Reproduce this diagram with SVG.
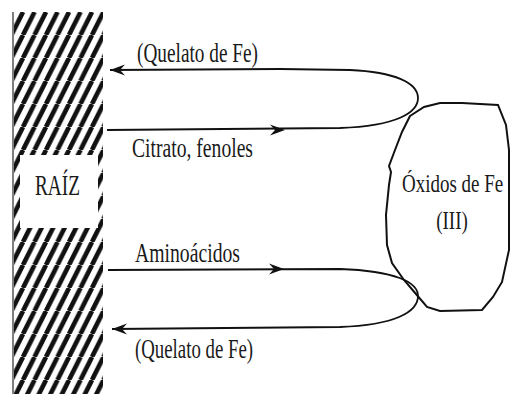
<svg xmlns="http://www.w3.org/2000/svg" xmlns:xlink="http://www.w3.org/1999/xlink" width="510" height="394" viewBox="0 0 510 394">
<style>
.lbl{font-family:"Liberation Serif","Times New Roman",serif;font-size:27px;fill:#1a1a1a}
.big{font-size:30px}
.ox{font-size:19px}
.ln{fill:none;stroke:#111;stroke-width:1.8}
.ah{fill:#111}
</style>
<defs>
<pattern id="hatch" patternUnits="userSpaceOnUse" x="0" y="12" width="11.5" height="23">
<path d="M-11.5,23 L0,0 M0,23 L11.5,0 M11.5,23 L23,0" stroke="#111" stroke-width="4.6" fill="none"/>
</pattern>
<clipPath id="rootclip"><rect x="14" y="12" width="89" height="382"/></clipPath>
<path id="ah" d="M0,0 L-15,-5.5 L-10,0 L-15,5.5 Z"/>
</defs>
<rect width="510" height="394" fill="#fff"/>
<g id="raiz">
<rect x="14" y="12" width="89" height="382" fill="url(#hatch)" clip-path="url(#rootclip)"/>
<line x1="13" y1="12" x2="13" y2="394" stroke="#555" stroke-width="1.5"/>
<rect x="20" y="155" width="78" height="73" fill="#fff"/>
<text class="lbl big" x="35" y="195" textLength="45" lengthAdjust="spacingAndGlyphs">RAÍZ</text>
</g>
<g id="oxidos">
<path d="M410,116 L424,107 L440,103 L462,103 L498,105 L506,125 L509,150 L509,200 L509,250 L502,282 L493,297 L482,310 L440,311 L427,307 L416,294 L404,280 L392,263 L387,245 L386,215 L389,185 L391,172 L389,166 L395,150 L402,132 Z" fill="#fff" stroke="#111" stroke-width="2"/>
<text class="lbl ox" transform="translate(402,192) scale(1,1.3)" x="0" y="0">Óxidos de Fe</text>
<text class="lbl ox" transform="translate(452,229) scale(1,1.3)" x="0" y="0" text-anchor="middle">(III)</text>
</g>
<g id="connectors">
<path class="ln" d="M110,70 L280,69 L350,70 C395,72 418,83 418,98 C418,112 398,126 340,128 L107,130"/>
<use xlink:href="#ah" class="ah" transform="translate(110,70) rotate(180)"/>
<use xlink:href="#ah" class="ah" transform="translate(285,130)"/>
<path class="ln" d="M108,270 L340,269 C395,271 418,282 418,296 C418,312 395,325 340,327 L112,329"/>
<use xlink:href="#ah" class="ah" transform="translate(284,269)"/>
<use xlink:href="#ah" class="ah" transform="translate(112,329) rotate(180)"/>
</g>
<g id="labels">
<text class="lbl" x="137" y="62" textLength="121" lengthAdjust="spacingAndGlyphs">(Quelato de Fe)</text>
<text class="lbl" x="132" y="157" textLength="121" lengthAdjust="spacingAndGlyphs">Citrato, fenoles</text>
<text class="lbl" x="135" y="262" textLength="105" lengthAdjust="spacingAndGlyphs">Aminoácidos</text>
<text class="lbl" x="135" y="358" textLength="118" lengthAdjust="spacingAndGlyphs">(Quelato de Fe)</text>
</g>
</svg>
